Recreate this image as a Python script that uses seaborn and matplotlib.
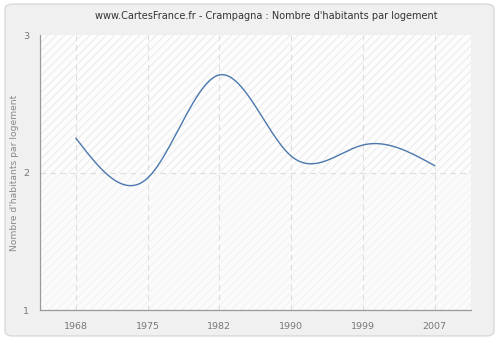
import numpy as np
import pandas as pd
import matplotlib
matplotlib.use("Agg")
import matplotlib.pyplot as plt
from matplotlib.patches import FancyBboxPatch
import seaborn as sns

# data
years = ["1968", "1975", "1982", "1990", "1999", "2007"]
values = [2.25, 1.96, 2.71, 2.12, 2.20, 2.05]

title = "www.CartesFrance.fr - Crampagna : Nombre d'habitants par logement"
ylabel = "Nombre d'habitants par logement"
yticks = [1, 2, 3]


def natural_spline(y, n=60):
    # natural cubic spline through equally spaced points (x = 0..k-1)
    y = np.asarray(y, dtype=float)
    k = len(y)
    A = np.zeros((k, k))
    b = np.zeros(k)
    A[0, 0] = A[-1, -1] = 1
    for i in range(1, k - 1):
        A[i, i - 1:i + 2] = [1, 4, 1]
        b[i] = 6 * (y[i + 1] - 2 * y[i] + y[i - 1])
    m = np.linalg.solve(A, b)
    xs, ys = [], []
    for i in range(k - 1):
        t = np.linspace(0, 1, n, endpoint=(i == k - 2))
        seg = ((1 - t) * y[i] + t * y[i + 1]
               + ((1 - t) ** 3 - (1 - t)) * m[i] / 6
               + (t ** 3 - t) * m[i + 1] / 6)
        xs.append(i + t)
        ys.append(seg)
    return np.concatenate(xs), np.concatenate(ys)


sns.set_style("white")
plt.rcParams["font.family"] = ["DejaVu Sans"]
plt.rcParams["hatch.linewidth"] = 0.8

fig = plt.figure(figsize=(5, 3.4), dpi=100)
fig.patch.set_facecolor("white")
frame = FancyBboxPatch((0.01, 0.012), 0.978, 0.976,
                       boxstyle="round,pad=0,rounding_size=0.015",
                       transform=fig.transFigure, facecolor="#f0f0f0",
                       edgecolor="#d9d9d9", linewidth=1, zorder=-10)
fig.add_artist(frame)

ax = fig.add_axes([0.08, 0.088, 0.861, 0.809])
ax.set_zorder(1)
ax.set_facecolor("white")

# hatched background, darker above 2
ax.axhspan(2, 3, facecolor="#fdfdfd", edgecolor="#ececec", hatch="////", linewidth=0, zorder=0)
ax.axhspan(1, 2, facecolor="#fbfbfb", edgecolor="#f2f2f2", hatch="////", linewidth=0, zorder=0)

xs, ys = natural_spline(values)
curve = pd.DataFrame({"x": xs, "y": ys})
sns.lineplot(data=curve, x="x", y="y", ax=ax, color="#4a78ad", linewidth=1, sort=False, zorder=3)

for i in range(len(years)):
    ax.axvline(i, color="#dddddd", linestyle=(0, (5, 4)), linewidth=0.8, zorder=1)
ax.axhline(2, color="#dddddd", linestyle=(0, (5, 4)), linewidth=0.8, zorder=1)

ax.set_xlim(-0.5, len(years) - 0.5)
ax.set_ylim(1, 3)
ax.set_xticks(range(len(years)))
ax.set_xticklabels(years)
ax.set_yticks(yticks)
ax.set_yticklabels([str(t) for t in yticks])
ax.set_xlabel("")
ax.set_ylabel(ylabel, color="#888888", fontsize=6.6, labelpad=3)
ax.tick_params(axis="both", colors="#999999", labelcolor="#777777", labelsize=6.8,
               length=5, width=0.8, direction="out")
ax.tick_params(axis="y", pad=3)

for side in ["top", "right"]:
    ax.spines[side].set_visible(False)
for side in ["left", "bottom"]:
    ax.spines[side].set_color("#999999")
    ax.spines[side].set_linewidth(0.9)

fig.text(0.533, 0.953, title, ha="center", va="center", fontsize=7, color="#333333")

fig.savefig("out.png", dpi=100, facecolor=fig.get_facecolor())
